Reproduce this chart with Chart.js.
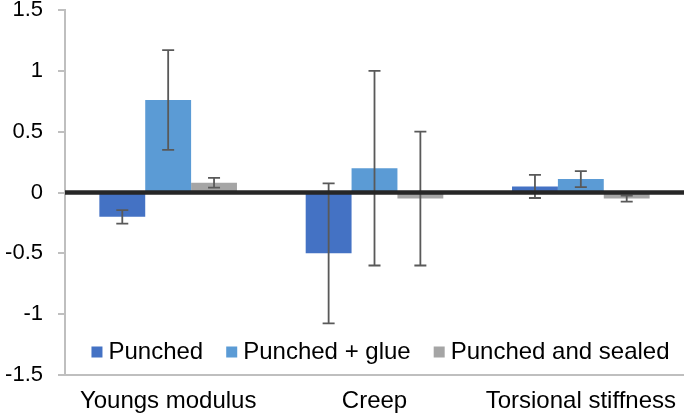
<!DOCTYPE html>
<html>
<head>
<meta charset="utf-8">
<script src="https://cdn.jsdelivr.net/npm/chart.js@4/dist/chart.umd.min.js"></script>
<style>
  html, body { margin: 0; padding: 0; background: #fff; }
  #wrap { position: relative; width: 684px; height: 416px; }
</style>
</head>
<body>
<div id="wrap"><canvas id="c" width="684" height="416"></canvas></div>
<script>
// Categories and series
const categories = ['Youngs modulus', 'Creep', 'Torsional stiffness'];
const seriesNames = ['Punched', 'Punched + glue', 'Punched and sealed'];

// Mean change per property, with symmetric error half-widths
const punched     = [-0.20, -0.50, 0.05];
const punchedErr  = [0.055, 0.575, 0.095];
const glue        = [0.76, 0.20, 0.11];
const glueErr     = [0.41, 0.80, 0.065];
const sealed      = [0.08, -0.05, -0.05];
const sealedErr   = [0.04, 0.55, 0.025];

// Value axis range and step
const yMin = -1.5, yMax = 1.5, yStep = 0.5;

const colors = ['#4472C4', '#5B9BD5', '#A5A5A5'];
const FONT = '"Liberation Sans", Arial, sans-serif';

// Error bars with caps, drawn from each dataset's `errors` array
const errorBars = {
  id: 'errorBars',
  afterDatasetsDraw(chart) {
    const ctx = chart.ctx, y = chart.scales.y;
    ctx.save();
    ctx.strokeStyle = '#595959';
    ctx.lineWidth = 1.8;
    chart.data.datasets.forEach((ds, i) => {
      const meta = chart.getDatasetMeta(i);
      meta.data.forEach((bar, j) => {
        const v = ds.data[j], e = ds.errors[j];
        const top = y.getPixelForValue(v + e);
        const bot = y.getPixelForValue(v - e);
        const x = bar.x, cap = 6;
        ctx.beginPath();
        ctx.moveTo(x, top); ctx.lineTo(x, bot);
        ctx.moveTo(x - cap, top); ctx.lineTo(x + cap, top);
        ctx.moveTo(x - cap, bot); ctx.lineTo(x + cap, bot);
        ctx.stroke();
      });
    });
    ctx.restore();
  }
};

// Heavy baseline at zero, on top of the bars
const zeroLine = {
  id: 'zeroLine',
  afterDatasetsDraw(chart) {
    const ctx = chart.ctx, a = chart.chartArea;
    const y0 = chart.scales.y.getPixelForValue(0);
    ctx.save();
    ctx.strokeStyle = '#262626';
    ctx.lineWidth = 4.5;
    ctx.beginPath();
    ctx.moveTo(a.left, y0); ctx.lineTo(a.right, y0);
    ctx.stroke();
    ctx.restore();
  }
};

// Legend row placed inside the plot, just above the category axis
const insideLegend = {
  id: 'insideLegend',
  afterDraw(chart) {
    const ctx = chart.ctx, a = chart.chartArea;
    const box = 11, gapIn = 6, gapOut = 23;
    ctx.save();
    ctx.font = '24px ' + FONT;
    ctx.textBaseline = 'middle';
    ctx.textAlign = 'left';
    const items = chart.data.datasets.map(ds => ({
      text: ds.label, color: ds.backgroundColor, w: ctx.measureText(ds.label).width
    }));
    let total = 0;
    items.forEach((it, k) => { total += box + gapIn + it.w + (k < items.length - 1 ? gapOut : 0); });
    let x = (a.left + a.right) / 2 + 6 - total / 2;
    const yc = a.bottom - 23;
    items.forEach(it => {
      ctx.fillStyle = it.color;
      ctx.fillRect(x, yc - box / 2, box, box);
      x += box + gapIn;
      ctx.fillStyle = '#000';
      ctx.fillText(it.text, x, yc);
      x += it.w + gapOut;
    });
    ctx.restore();
  }
};

new Chart(document.getElementById('c'), {
  type: 'bar',
  data: {
    labels: categories,
    datasets: [
      { label: seriesNames[0], data: punched, errors: punchedErr, backgroundColor: colors[0] },
      { label: seriesNames[1], data: glue, errors: glueErr, backgroundColor: colors[1] },
      { label: seriesNames[2], data: sealed, errors: sealedErr, backgroundColor: colors[2] }
    ]
  },
  options: {
    responsive: false,
    animation: false,
    devicePixelRatio: 1,
    layout: { padding: { left: 0, right: 0, top: 0, bottom: 0 } },
    datasets: { bar: { categoryPercentage: 0.667, barPercentage: 1.0, borderWidth: 0 } },
    plugins: {
      legend: { display: false },
      tooltip: { enabled: false }
    },
    scales: {
      x: {
        grid: { drawOnChartArea: false, drawTicks: false, color: 'rgba(0,0,0,0)' },
        border: { display: true, color: '#bfbfbf', width: 2 },
        ticks: { color: '#000', padding: 12, maxRotation: 0, font: { family: FONT, size: 24 } },
        afterFit(s) { s.height = 41; s.paddingLeft = 0; s.paddingRight = 0; }
      },
      y: {
        min: yMin, max: yMax,
        grid: { drawOnChartArea: false, drawTicks: true, tickLength: 7, color: '#bfbfbf', lineWidth: 2 },
        border: { display: true, color: '#bfbfbf', width: 2 },
        ticks: {
          stepSize: yStep, color: '#000', padding: 15,
          font: { family: FONT, size: 22 },
          callback: v => String(v)
        },
        afterFit(s) { s.width = 65; s.paddingTop = 10; s.paddingBottom = 0; }
      }
    }
  },
  plugins: [errorBars, zeroLine, insideLegend]
});
</script>
</body>
</html>
